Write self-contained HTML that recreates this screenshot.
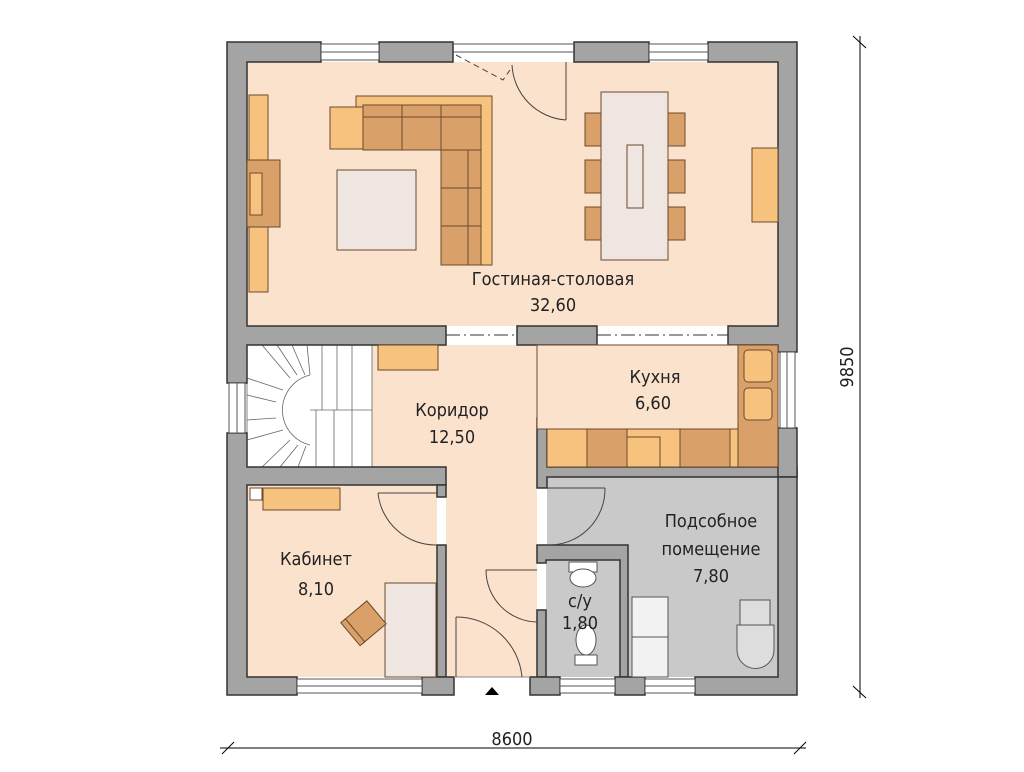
<!DOCTYPE html>
<html><head><meta charset="utf-8"><style>
html,body{margin:0;padding:0;background:#fff;}
svg{display:block;}
text{font-family:"DejaVu Sans Condensed","Liberation Sans Narrow","Liberation Sans",sans-serif;font-size:18px;fill:#222;text-anchor:middle;}
</style></head><body>
<svg width="1024" height="772" viewBox="0 0 1024 772" xmlns="http://www.w3.org/2000/svg">
<rect width="1024" height="772" fill="#fff"/>
<rect x="247" y="62" width="531" height="264" fill="#fbe2cd"/>
<rect x="372" y="345" width="165" height="332" fill="#fbe2cd"/>
<rect x="247" y="485" width="190" height="192" fill="#fbe2cd"/>
<rect x="537" y="345" width="241" height="122" fill="#fbe2cd"/>
<rect x="547" y="477" width="231" height="200" fill="#c9c9c9"/>
<rect x="546" y="560" width="74" height="117" fill="#c9c9c9"/>
<rect x="247" y="345" width="125" height="122" fill="#fff"/>
<rect x="437" y="497" width="9" height="48" fill="#fff"/>
<rect x="537" y="488" width="10" height="57" fill="#fff"/>
<rect x="537" y="563" width="9" height="47" fill="#fff"/>

<g stroke="#666" stroke-width="0.8" fill="none">
<rect x="247" y="345" width="125" height="122"/>
<line x1="310" y1="410" x2="372" y2="410"/>
<path d="M310 375 A36 36 0 0 0 310 445"/>
<line x1="262" y1="345" x2="290" y2="378"/><line x1="277" y1="345" x2="297" y2="375"/>
<line x1="292" y1="345" x2="305" y2="375"/><line x1="307" y1="345" x2="310" y2="375"/>
<line x1="322" y1="345" x2="322" y2="410"/><line x1="337" y1="345" x2="337" y2="410"/><line x1="352" y1="345" x2="352" y2="410"/>
<line x1="247" y1="378" x2="283" y2="390"/><line x1="247" y1="395" x2="276" y2="402"/>
<line x1="247" y1="420" x2="276" y2="418"/><line x1="247" y1="440" x2="283" y2="430"/>
<line x1="262" y1="467" x2="290" y2="440"/><line x1="280" y1="467" x2="298" y2="445"/>
<line x1="298" y1="467" x2="306" y2="446"/><line x1="316" y1="467" x2="316" y2="410"/>
<line x1="334" y1="467" x2="334" y2="410"/><line x1="352" y1="467" x2="352" y2="410"/>
</g>

<g fill="#a4a4a4" stroke="#333" stroke-width="1.5">
<path d="M227 42 H321 V62 H247 V326 H446 V345 H247 V383 H227 Z"/>
<rect x="379" y="42" width="74" height="20"/>
<rect x="574" y="42" width="75" height="20"/>
<path d="M708 42 H797 V352 H778 V345 H728 V326 H778 V62 H708 Z"/>
<rect x="517" y="326" width="80" height="19"/>
<path d="M227 433 H247 V467 H446 V485 H247 V677 H297 V695 H227 Z"/>
<path d="M437 485 H446 V497 H437 Z"/>
<rect x="437" y="545" width="9" height="132"/>
<rect x="422" y="677" width="32" height="18"/>
<path d="M537 418 H547 V467 H797 V477 H547 V488 H537 Z" />
<rect x="778" y="428" width="19" height="49"/>
<path d="M778 477 H797 V695 H695 V677 H778 Z"/>
<path d="M537 545 H628 V677 H620 V560 H546 V563 H537 Z"/>
<rect x="537" y="610" width="9" height="67"/>
<rect x="530" y="677" width="30" height="18"/>
<rect x="615" y="677" width="30" height="18"/>
</g>
<g stroke="#555" stroke-width="1" fill="#fff">
<rect x="321" y="44" width="58" height="16"/><line x1="321" y1="52" x2="379" y2="52"/>
<rect x="649" y="44" width="59" height="16"/><line x1="649" y1="52" x2="708" y2="52"/>
<line x1="453" y1="44" x2="574" y2="44"/><line x1="453" y1="52" x2="574" y2="52"/>
<rect x="297" y="679" width="125" height="14"/><line x1="297" y1="686" x2="422" y2="686"/>
<rect x="560" y="679" width="55" height="14"/><line x1="560" y1="686" x2="615" y2="686"/>
<rect x="645" y="679" width="50" height="14"/><line x1="645" y1="686" x2="695" y2="686"/>
<rect x="229" y="383" width="16" height="50"/><line x1="237" y1="383" x2="237" y2="433"/>
<rect x="780" y="352" width="15" height="76"/><line x1="787" y1="352" x2="787" y2="428"/>
</g>
<line x1="454" y1="677" x2="530" y2="677" stroke="#888" stroke-width="1"/>
<path d="M485 695 L492 687 L499 695 Z" fill="#000"/>
<g stroke="#333" stroke-width="1" stroke-dasharray="14,4,2,4">
<line x1="446" y1="335" x2="517" y2="335"/><line x1="597" y1="335" x2="728" y2="335"/>
</g>

<g stroke="#6b4a2a" stroke-width="1">
<path d="M356 96 H492 V265 H480 V108 H356 Z" fill="#f6c27e"/>
<rect x="330" y="107" width="33" height="42" fill="#f6c27e"/>
<rect x="363" y="105" width="118" height="45" fill="#d9a06a"/>
<rect x="363" y="105" width="118" height="12" fill="#d9a06a"/>
<line x1="402" y1="105" x2="402" y2="150"/><line x1="441" y1="105" x2="441" y2="150"/>
<rect x="441" y="150" width="40" height="115" fill="#d9a06a"/>
<rect x="468" y="150" width="13" height="115" fill="#d9a06a"/>
<line x1="441" y1="188" x2="481" y2="188"/><line x1="441" y1="226" x2="481" y2="226"/>
<rect x="337" y="170" width="79" height="80" fill="#efe6e1"/>
<rect x="601" y="92" width="67" height="168" fill="#efe6e1"/>
<rect x="627" y="145" width="16" height="63" fill="#efe6e1"/>
<rect x="585" y="113" width="16" height="33" fill="#d9a06a"/>
<rect x="585" y="160" width="16" height="33" fill="#d9a06a"/>
<rect x="585" y="207" width="16" height="33" fill="#d9a06a"/>
<rect x="668" y="113" width="17" height="33" fill="#d9a06a"/>
<rect x="668" y="160" width="17" height="33" fill="#d9a06a"/>
<rect x="668" y="207" width="17" height="33" fill="#d9a06a"/>
<rect x="249" y="95" width="19" height="197" fill="#f6c27e"/>
<rect x="247" y="160" width="33" height="67" fill="#d9a06a"/>
<rect x="250" y="173" width="12" height="42" fill="#f6c27e"/>
<rect x="752" y="148" width="26" height="74" fill="#f6c27e"/>
</g>
<g stroke="#444" stroke-width="1" fill="none">
<line x1="566" y1="62" x2="566" y2="120"/>
<path d="M566 120 A58 58 0 0 1 512 65"/>
<path d="M456 55 L503 80 L510 70" stroke-dasharray="6,4"/>
</g>

<rect x="378" y="345" width="60" height="25" fill="#f6c27e" stroke="#6b4a2a"/>
<g stroke="#6b4a2a" stroke-width="1">
<rect x="547" y="429" width="231" height="38" fill="#f6c27e"/>
<rect x="587" y="429" width="40" height="38" fill="#d9a06a"/>
<rect x="627" y="437" width="33" height="30" fill="#f6c27e"/>
<rect x="680" y="429" width="50" height="38" fill="#d9a06a"/>
<rect x="738" y="345" width="40" height="122" fill="#d9a06a"/>
<rect x="744" y="350" width="28" height="32" rx="4" fill="#f6c27e"/>
<rect x="744" y="388" width="28" height="32" rx="4" fill="#f6c27e"/>
</g>
<rect x="537" y="345" width="201" height="84" fill="#fbe2cd" stroke="#6b4a2a" stroke-width="1"/>

<g stroke="#6b4a2a" stroke-width="1">
<rect x="263" y="488" width="77" height="22" fill="#f6c27e"/>
<rect x="250" y="488" width="12" height="12" fill="#fff"/>
<rect x="385" y="583" width="51" height="94" fill="#efe6e1"/>
<g transform="rotate(-40 365 622)"><rect x="350" y="607" width="30" height="30" fill="#d9a06a"/><rect x="346" y="607" width="6" height="30" fill="#d9a06a"/></g>
</g>
<g stroke="#444" stroke-width="1" fill="none">
<path d="M437 545 A58 58 0 0 1 378 493"/><line x1="378" y1="493" x2="437" y2="493"/>
<path d="M547 545 A56 56 0 0 0 605 488"/><line x1="605" y1="488" x2="547" y2="488"/>
<path d="M537 622 A52 52 0 0 1 486 570"/><line x1="486" y1="570" x2="537" y2="570"/>
<path d="M522 677 A66 66 0 0 0 456 617"/><line x1="456" y1="617" x2="456" y2="677"/>
</g>
<g stroke="#555" stroke-width="1" fill="#fff">
<rect x="569" y="562" width="28" height="10"/>
<ellipse cx="583" cy="578" rx="13" ry="9"/>
<rect x="575" y="655" width="22" height="10"/>
<ellipse cx="586" cy="640" rx="10" ry="15"/>
<rect x="632" y="597" width="36" height="40" fill="#f2f2f2"/>
<rect x="632" y="637" width="36" height="40" fill="#f2f2f2"/>
<rect x="740" y="600" width="30" height="25" fill="#ddd"/>
<path d="M737 625 H774 V650 A18 18 0 0 1 737 650 Z" fill="#ddd"/>
</g>

<text x="553" y="285">Гостиная-столовая</text>
<text x="553" y="311">32,60</text>
<text x="452" y="416">Коридор</text>
<text x="452" y="443">12,50</text>
<text x="655" y="383">Кухня</text>
<text x="653" y="409">6,60</text>
<text x="316" y="565">Кабинет</text>
<text x="316" y="595">8,10</text>
<text x="711" y="527">Подсобное</text>
<text x="711" y="555">помещение</text>
<text x="711" y="582">7,80</text>
<text x="580" y="607">с/у</text>
<text x="580" y="629">1,80</text>

<g stroke="#000" stroke-width="1">
<line x1="220" y1="748" x2="806" y2="748"/>
<line x1="222" y1="754" x2="234" y2="742"/><line x1="794" y1="754" x2="806" y2="742"/>
<line x1="860" y1="36" x2="860" y2="698"/>
<line x1="853" y1="36" x2="866" y2="48"/><line x1="853" y1="686" x2="866" y2="698"/>
</g>
<text x="512" y="745">8600</text>
<text x="0" y="0" transform="translate(853 367) rotate(-90)">9850</text>
</svg>
</body></html>
